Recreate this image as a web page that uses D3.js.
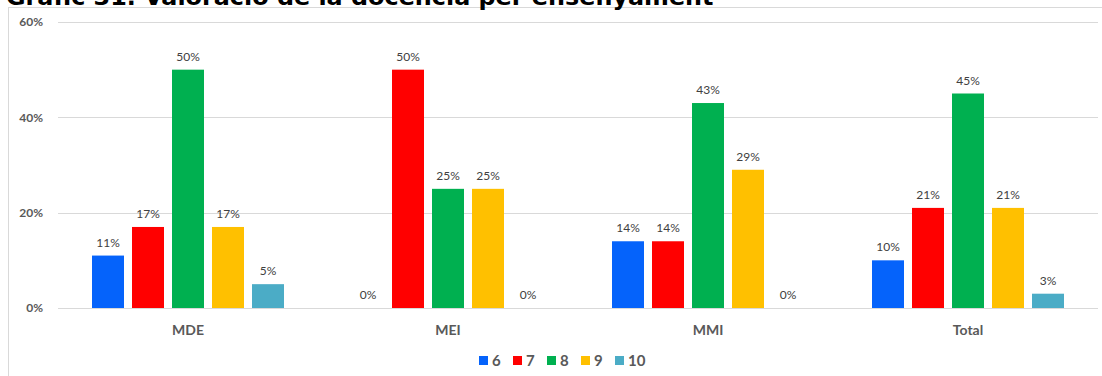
<!DOCTYPE html>
<html><head><meta charset="utf-8">
<script src="https://cdn.jsdelivr.net/npm/d3@7"></script>
<style>body{margin:0;background:#fff}svg{display:block}</style>
</head><body>
<svg id="c" width="1102" height="376"></svg>
<script>
const title = "Gràfic 31. Valoració de la docència per ensenyament";
const categories = ["MDE", "MEI", "MMI", "Total"];
const seriesNames = ["6", "7", "8", "9", "10"];
const s6 = [11, 0, 14, 10];
const s7 = [17, 50, 14, 21];
const s8 = [50, 25, 43, 45];
const s9 = [17, 25, 29, 21];
const s10 = [5, 0, 0, 3];
const yTicks = [0, 20, 40, 60];
const colors = ["#0563FB", "#FF0000", "#00B050", "#FFC000", "#4BACC6"];

const seriesValues = [s6, s7, s8, s9, s10];
const svg = d3.select("#c");

// chart border
svg.append("rect").attr("x", 8.5).attr("y", 7.5).attr("width", 1100).attr("height", 380)
  .attr("fill", "none").attr("stroke", "#d9d9d9");

// title (cut at top, as in the reference)
const t = svg.append("text").attr("x", 6).attr("y", 5)
  .attr("font-family", "DejaVu Sans").attr("font-weight", "bold").attr("font-size", 21)
  .attr("fill", "#000").text(title);
const tw = t.node().getComputedTextLength();
t.attr("font-size", 21 * 708 / tw);

const x0 = d3.scaleBand().domain(categories).range([58, 1098]).padding(0);
const x1 = d3.scaleBand().domain(seriesNames).range([26, 234]).padding(0.2);
const y = d3.scaleLinear().domain([0, 60]).range([308, 22]);

// gridlines
svg.append("g").selectAll("line").data(yTicks).join("line")
  .attr("x1", 58).attr("x2", 1098)
  .attr("y1", d => Math.round(y(d)) + 0.5).attr("y2", d => Math.round(y(d)) + 0.5)
  .attr("stroke", "#d9d9d9").attr("stroke-width", 1);

// y axis labels
const yAxis = d3.axisLeft(y).tickValues(yTicks).tickFormat(d => d + "%").tickSize(0).tickPadding(0);
const ya = svg.append("g").attr("transform", "translate(43,0)").call(yAxis);
ya.select(".domain").remove();
ya.selectAll("text").attr("font-family", "Lato").attr("font-weight", "bold")
  .attr("font-size", 12).attr("fill", "#595959");

// x axis labels
const xAxis = d3.axisBottom(x0).tickSize(0).tickPadding(0);
const xa = svg.append("g").attr("transform", "translate(0,325)").call(xAxis);
xa.select(".domain").remove();
xa.selectAll("text").attr("font-family", "Lato").attr("font-weight", "bold")
  .attr("font-size", 14).attr("fill", "#595959");

// bars
const rows = [];
categories.forEach((c, ci) => seriesNames.forEach((s, si) => rows.push({c, s, si, v: seriesValues[si][ci]})));
const g = svg.append("g");
g.selectAll("rect").data(rows).join("rect")
  .attr("x", d => x0(d.c) + x1(d.s))
  .attr("width", x1.bandwidth())
  .attr("y", d => y(d.v))
  .attr("height", d => y(0) - y(d.v))
  .attr("fill", d => colors[d.si]);
g.selectAll("text").data(rows).join("text")
  .attr("x", d => x0(d.c) + x1(d.s) + x1.bandwidth() / 2)
  .attr("y", d => y(d.v) - 9)
  .attr("text-anchor", "middle")
  .attr("font-family", "Lato").attr("font-size", 12).attr("fill", "#404040")
  .text(d => d.v + "%");

// legend
const legX = d3.scalePoint().domain(seriesNames).range([479, 615]);
const lg = svg.append("g").selectAll("g").data(seriesNames).join("g")
  .attr("transform", d => `translate(${legX(d)},356)`);
lg.append("rect").attr("width", 9).attr("height", 9).attr("fill", (d, i) => colors[i]);
lg.append("text").attr("x", 13).attr("y", 9.5)
  .attr("font-family", "Lato").attr("font-weight", "bold").attr("font-size", 15)
  .attr("fill", "#595959").text(d => d);
</script>
</body></html>
